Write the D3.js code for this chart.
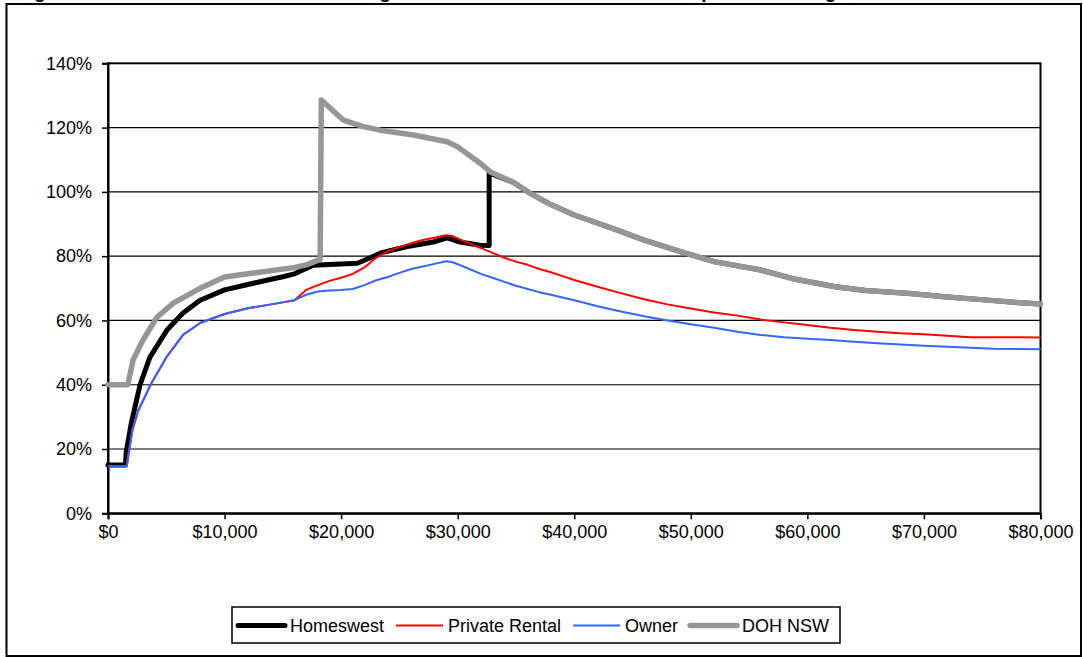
<!DOCTYPE html>
<html>
<head>
<meta charset="utf-8">
<script src="https://cdn.jsdelivr.net/npm/d3@7"></script>
<style>
  html, body { margin: 0; padding: 0; background: #fff; }
  svg { display: block; }
  text { font-family: Arial, "Liberation Sans", sans-serif; fill: #000; }
</style>
</head>
<body>
<svg id="chart" width="1083" height="657"></svg>
<script>
// Effective rate (%) by gross annual income ($), one [income, rate] list per tenure
const homeswest = [
  [0, 15], [1500, 15], [1560, 19], [2000, 28], [2750, 40], [3600, 48.6], [5060, 57],
  [6440, 62.3], [7900, 66.3], [10000, 69.5], [12000, 71.2], [14000, 72.8], [15000, 73.6],
  [16000, 74.5], [17000, 76.2], [17600, 77.2], [19000, 77.4], [21400, 77.8], [22500, 79.5],
  [23400, 81], [25700, 83], [27900, 84.4], [29100, 85.7], [30200, 84.4], [31900, 83.4],
  [32700, 83.3], [32700, 105.9], [34760, 103], [36200, 99.6], [37800, 96.4], [40000, 92.8],
  [43220, 88.7], [46000, 85], [49600, 80.9], [52000, 78.3], [56000, 75.7], [59000, 72.8],
  [62400, 70.5], [65000, 69.3], [68800, 68.4], [72000, 67.3], [75200, 66.4], [78000, 65.6],
  [80000, 65.1]
];

const privateRental = [
  [0, 14.6], [1600, 14.6], [2100, 26], [2600, 32], [3700, 40.3], [5000, 48.5], [6440, 55.5],
  [7900, 59.2], [10000, 62], [12000, 63.8], [14000, 65], [16000, 66.3], [17000, 69.5],
  [18000, 71], [19000, 72.3], [20000, 73.3], [21000, 74.5], [22000, 76.5], [23000, 79.5],
  [24000, 81.5], [25000, 82.8], [26000, 84], [27000, 85], [28000, 85.7], [29000, 86.5],
  [29500, 86.3], [30000, 85.5], [31000, 84], [32000, 82.5], [33000, 81], [34000, 79.5],
  [35000, 78.3], [36000, 77.3], [37000, 76], [38000, 75], [39000, 73.8], [40000, 72.6],
  [42000, 70.5], [44000, 68.5], [46000, 66.6], [48000, 65], [50000, 63.7], [52000, 62.5],
  [54000, 61.5], [56000, 60.3], [58000, 59.4], [60000, 58.6], [62000, 57.7], [64000, 57],
  [66000, 56.5], [68000, 56], [70000, 55.7], [72000, 55.2], [74000, 54.8], [76000, 54.8],
  [78000, 54.8], [80000, 54.7]
];

const owner = [
  [0, 14.6], [1600, 14.6], [2100, 26], [2600, 32], [3700, 40.3], [5000, 48.5], [6440, 55.5],
  [7900, 59.2], [10000, 62], [12000, 63.8], [14000, 65], [16000, 66.3], [17000, 68],
  [18000, 69], [19000, 69.3], [20000, 69.5], [21000, 69.8], [22000, 71], [23000, 72.5],
  [24000, 73.5], [25000, 74.8], [26000, 76], [27000, 76.8], [28000, 77.6], [29000, 78.4],
  [29500, 78.2], [30000, 77.5], [31000, 76], [32000, 74.5], [33000, 73.3], [34000, 72],
  [35000, 70.8], [36000, 69.8], [37000, 68.8], [38000, 68], [40000, 66.3], [42000, 64.4],
  [44000, 62.8], [46000, 61.3], [48000, 60], [50000, 58.8], [52000, 57.7], [54000, 56.5],
  [56000, 55.5], [58000, 54.8], [60000, 54.3], [62000, 53.9], [64000, 53.4], [66000, 52.9],
  [68000, 52.5], [70000, 52.1], [72000, 51.8], [74000, 51.5], [76000, 51.2], [78000, 51.1],
  [80000, 51]
];

const dohNsw = [
  [0, 40], [1700, 40], [2150, 47.7], [3000, 53.9], [4200, 61], [5600, 65.4], [7900, 70],
  [10000, 73.5], [12000, 74.5], [14000, 75.5], [16000, 76.5], [17000, 77.3], [18200, 79],
  [18300, 128.6], [20200, 122.3], [21900, 120.3], [23350, 119.2], [26200, 117.7],
  [29100, 115.6], [30000, 114], [31900, 109], [32800, 106.2], [34760, 103], [36200, 99.6],
  [37800, 96.4], [40000, 92.8], [43220, 88.7], [46000, 85], [49600, 80.9], [52000, 78.3],
  [56000, 75.7], [59000, 72.8], [62400, 70.5], [65000, 69.3], [68800, 68.4], [72000, 67.3],
  [75200, 66.4], [78000, 65.6], [80000, 65.1]
];

const seriesNames = ["Homeswest", "Private Rental", "Owner", "DOH NSW"];
const seriesData = [homeswest, privateRental, owner, dohNsw];
const seriesColors = ["#000000", "#FF0000", "#3366FF", "#969696"];
const seriesWidths = [5, 2, 2, 5.5];

const incomeTicks = [0, 10000, 20000, 30000, 40000, 50000, 60000, 70000, 80000];
const rateTicks = [0, 20, 40, 60, 80, 100, 120, 140];

const titleText = "Figure 5: Effective tax and rent rates on gross income for the sole earner in public housing and other tenures";

const svg = d3.select("#chart");

// plot area
const plot = { left: 108, top: 63.3, right: 1040.5, bottom: 513.3 };

const x = d3.scaleLinear().domain([0, 80000]).range([plot.left, plot.right]);
const y = d3.scaleLinear().domain([0, 140]).range([plot.bottom, plot.top]);

// caption running off the top edge
svg.append("text")
  .attr("x", 17)
  .attr("y", -2.3)
  .attr("font-size", 19)
  .attr("font-weight", "bold")
  .text(titleText);

// outer chart frame
svg.append("rect")
  .attr("x", 6.5).attr("y", 4)
  .attr("width", 1081 - 6.5).attr("height", 656 - 4)
  .attr("fill", "none").attr("stroke", "#000").attr("stroke-width", 2);

// horizontal gridlines
svg.append("g")
  .selectAll("line")
  .data(rateTicks.filter(d => d > 0 && d < 140))
  .join("line")
  .attr("x1", plot.left).attr("x2", plot.right)
  .attr("y1", d => y(d)).attr("y2", d => y(d))
  .attr("stroke", "#000").attr("stroke-width", 1.2);

// plot area border
svg.append("rect")
  .attr("x", plot.left).attr("y", plot.top)
  .attr("width", plot.right - plot.left).attr("height", plot.bottom - plot.top)
  .attr("fill", "none").attr("stroke", "#000").attr("stroke-width", 2);

// axes
const yAxis = svg.append("g")
  .attr("transform", `translate(${plot.left},0)`)
  .call(d3.axisLeft(y).tickValues(rateTicks).tickSize(6).tickPadding(10)
    .tickFormat(d => d + "%"));

const xAxis = svg.append("g")
  .attr("transform", `translate(0,${plot.bottom})`)
  .call(d3.axisBottom(x).tickValues(incomeTicks).tickSize(6).tickPadding(6)
    .tickFormat(d => "$" + d3.format(",")(d)));

[yAxis, xAxis].forEach(a => {
  a.select(".domain").attr("stroke", "#000").attr("stroke-width", 2);
  a.selectAll(".tick line").attr("stroke", "#000").attr("stroke-width", 1.5);
  a.selectAll(".tick text")
    .attr("font-size", 18)
    .attr("font-family", 'Arial, "Liberation Sans", sans-serif')
    .attr("fill", "#000");
});

// series lines
const line = d3.line().x(d => x(d[0])).y(d => y(d[1]));

svg.append("g")
  .selectAll("path")
  .data(seriesData)
  .join("path")
  .attr("d", d => line(d))
  .attr("fill", "none")
  .attr("stroke", (d, i) => seriesColors[i])
  .attr("stroke-width", (d, i) => seriesWidths[i])
  .attr("stroke-linejoin", "round")
  .attr("stroke-linecap", (d, i) => seriesWidths[i] > 3 ? "round" : "butt");

// legend
const legend = { left: 232, top: 607, right: 840, bottom: 643 };
svg.append("rect")
  .attr("x", legend.left).attr("y", legend.top)
  .attr("width", legend.right - legend.left).attr("height", legend.bottom - legend.top)
  .attr("fill", "#fff").attr("stroke", "#000").attr("stroke-width", 1.5);

const legendY = (legend.top + legend.bottom) / 2 + 0.5;
const swatchLen = 47;
let cursor = legend.left + 6;
seriesNames.forEach((name, i) => {
  const lw = seriesWidths[i];
  svg.append("line")
    .attr("x1", cursor).attr("x2", cursor + swatchLen)
    .attr("y1", legendY).attr("y2", legendY)
    .attr("stroke", seriesColors[i])
    .attr("stroke-width", lw)
    .attr("stroke-linecap", lw > 3 ? "round" : "butt");
  const t = svg.append("text")
    .attr("x", cursor + swatchLen + 5)
    .attr("y", legendY)
    .attr("dy", "0.35em")
    .attr("font-size", 18)
    .text(name);
  cursor = cursor + swatchLen + 5 + t.node().getComputedTextLength() + 12;
});
</script>
</body>
</html>
